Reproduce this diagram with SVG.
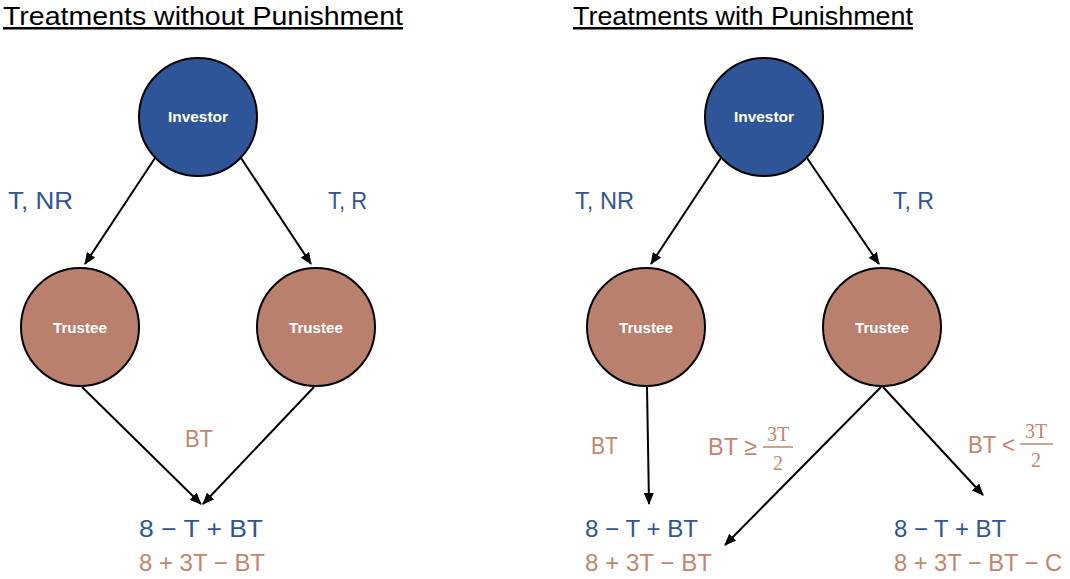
<svg xmlns="http://www.w3.org/2000/svg" width="1070" height="579" viewBox="0 0 1070 579">
<style>
.title{font-family:"Liberation Sans",Arial,sans-serif;font-size:25px;fill:#000;text-decoration:underline}
.node text{font-family:"Liberation Sans",Arial,sans-serif;font-size:15px;font-weight:bold;fill:#fff;text-anchor:middle}
.inv{fill:#2E5597;stroke:#000;stroke-width:2}
.tru{fill:#B9806E;stroke:#000;stroke-width:2}
.lb{font-family:"Liberation Sans",Arial,sans-serif;font-size:24px;fill:#2F5597}
.lr{font-family:"Liberation Sans",Arial,sans-serif;font-size:24px;fill:#C0866F}
.fr{font-family:"Liberation Serif","DejaVu Serif",serif;font-size:20px;fill:#C0866F;text-anchor:middle}
.edges line{stroke:#000;stroke-width:2;marker-end:url(#ah)}
</style>
<defs>
<marker id="ah" markerUnits="userSpaceOnUse" markerWidth="12" markerHeight="10" refX="11" refY="5" orient="auto">
<path d="M0,0 L12,5 L0,10 Z" fill="#000"/>
</marker>
</defs>
<rect width="1070" height="579" fill="#fff"/>
<text class="title" x="3" y="25" textLength="400" lengthAdjust="spacingAndGlyphs">Treatments without Punishment</text>
<text class="title" x="573" y="25" textLength="340" lengthAdjust="spacingAndGlyphs">Treatments with Punishment</text>

<g class="edges">
<line x1="155" y1="158" x2="85" y2="264"/>
<line x1="241" y1="158" x2="311" y2="264"/>
<line x1="82" y1="387" x2="201" y2="504"/>
<line x1="314" y1="387" x2="203" y2="504"/>
<line x1="721" y1="158" x2="651" y2="264"/>
<line x1="807" y1="158" x2="879" y2="264"/>
<line x1="647" y1="387" x2="649" y2="504"/>
<line x1="881" y1="387" x2="725" y2="545"/>
<line x1="883" y1="387" x2="983" y2="495"/>
</g>

<g id="investor-left" class="node"><circle class="inv" cx="198" cy="117" r="59"/><text x="198" y="122" textLength="60" lengthAdjust="spacingAndGlyphs">Investor</text></g>
<g id="trustee-left-1" class="node"><circle class="tru" cx="80" cy="327" r="59"/><text x="80" y="333" textLength="54" lengthAdjust="spacingAndGlyphs">Trustee</text></g>
<g id="trustee-left-2" class="node"><circle class="tru" cx="316" cy="327" r="59"/><text x="316" y="333" textLength="54" lengthAdjust="spacingAndGlyphs">Trustee</text></g>
<g id="investor-right" class="node"><circle class="inv" cx="764" cy="117" r="59"/><text x="764" y="122" textLength="60" lengthAdjust="spacingAndGlyphs">Investor</text></g>
<g id="trustee-right-1" class="node"><circle class="tru" cx="646" cy="327" r="59"/><text x="646" y="333" textLength="54" lengthAdjust="spacingAndGlyphs">Trustee</text></g>
<g id="trustee-right-2" class="node"><circle class="tru" cx="882" cy="327" r="59"/><text x="882" y="333" textLength="54" lengthAdjust="spacingAndGlyphs">Trustee</text></g>

<g id="labels">
<text class="lb" x="8" y="209" textLength="65" lengthAdjust="spacingAndGlyphs">T, NR</text>
<text class="lb" x="328" y="209" textLength="39" lengthAdjust="spacingAndGlyphs">T, R</text>
<text class="lb" x="575" y="209" textLength="59" lengthAdjust="spacingAndGlyphs">T, NR</text>
<text class="lb" x="893" y="209" textLength="41" lengthAdjust="spacingAndGlyphs">T, R</text>
<text class="lr" x="185" y="447" textLength="28" lengthAdjust="spacingAndGlyphs">BT</text>
<text class="lr" x="591" y="454" textLength="27" lengthAdjust="spacingAndGlyphs">BT</text>
<text class="lr" x="708" y="455" textLength="49" lengthAdjust="spacingAndGlyphs">BT ≥</text>
<text class="fr" x="778" y="441">3T</text>
<line x1="763" y1="447" x2="793" y2="447" stroke="#C0866F" stroke-width="1.5"/>
<text class="fr" x="778" y="470">2</text>
<text class="lr" x="968" y="453" textLength="47" lengthAdjust="spacingAndGlyphs">BT &lt;</text>
<text class="fr" x="1036" y="438">3T</text>
<line x1="1020" y1="444" x2="1053" y2="444" stroke="#C0866F" stroke-width="1.5"/>
<text class="fr" x="1036" y="467">2</text>
<text class="lb" x="139" y="537" textLength="124" lengthAdjust="spacingAndGlyphs">8 − T + BT</text>
<text class="lr" x="139" y="571" textLength="126" lengthAdjust="spacingAndGlyphs">8 + 3T − BT</text>
<text class="lb" x="585" y="537" textLength="113" lengthAdjust="spacingAndGlyphs">8 − T + BT</text>
<text class="lr" x="585" y="571" textLength="127" lengthAdjust="spacingAndGlyphs">8 + 3T − BT</text>
<text class="lb" x="894" y="537" textLength="112" lengthAdjust="spacingAndGlyphs">8 − T + BT</text>
<text class="lr" x="894" y="571" textLength="168" lengthAdjust="spacingAndGlyphs">8 + 3T − BT − C</text>
</g>
</svg>
